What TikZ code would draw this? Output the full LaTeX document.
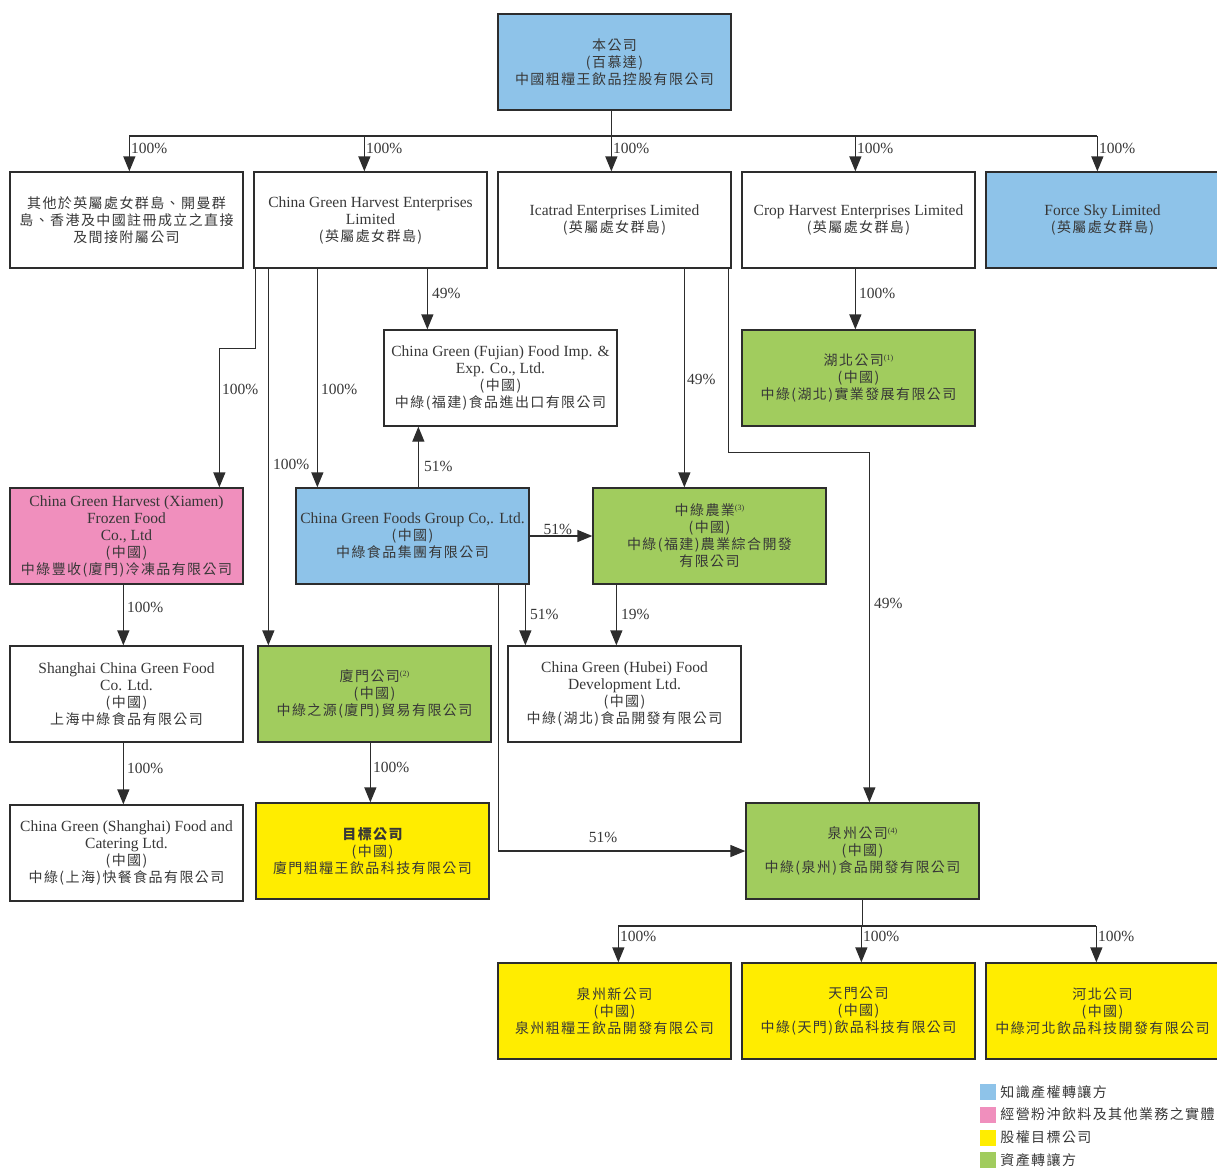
\documentclass[tikz,border=0pt]{standalone}
\usepackage{fontspec}
\setmainfont{Liberation Serif}
\newfontfamily\cjk[LetterSpace=10.0]{Noto Sans CJK TC}
\usetikzlibrary{arrows.meta,calc}
\definecolor{cblue}{RGB}{142,195,233}
\definecolor{cpink}{RGB}{240,143,189}
\definecolor{cgreen}{RGB}{161,204,94}
\definecolor{cyellow}{RGB}{255,237,0}
\definecolor{cline}{RGB}{45,45,45}
\definecolor{ctext}{RGB}{55,55,55}
\newcommand\zh[1]{{\cjk\fontsize{14}{17}\selectfont #1}}
\newcommand\fnote[1]{\raisebox{5pt}{\fontsize{8}{8}\selectfont(#1)}}
\begin{document}
\begin{tikzpicture}[x=1pt,y=-1pt,
  box/.style={draw=cline,line width=1.3pt,minimum width=233pt,minimum height=96pt,
    inner sep=2pt,align=center,text=ctext,font=\fontsize{15.5}{17}\selectfont},
  arr/.style={draw=cline,line width=1.3pt,-{Triangle[width=12pt,length=15pt]}},
  ln/.style={draw=cline,line width=1.3pt},
  lab/.style={text=ctext,font=\fontsize{15.5}{17}\selectfont,inner sep=1pt},
  legsq/.style={minimum width=16pt,minimum height=16pt,inner sep=0pt},
  legtxt/.style={text=ctext,inner sep=0pt,anchor=west}]
\useasboundingbox (0,0) rectangle (1217,1168);
% ---- boxes ----
\node[box,fill=cblue] (top) at (614.5,62) {\zh{本公司}\\\zh{(百慕達)}\\\zh{中國粗糧王飲品控股有限公司}};
\node[box] (A) at (126.5,220) {\zh{其他於英屬處女群島、開曼群}\\\zh{島、香港及中國註冊成立之直接}\\\zh{及間接附屬公司}};
\node[box] (B) at (370.5,220) {China Green Harvest Enterprises\\Limited\\\zh{(英屬處女群島)}};
\node[box] (C) at (614.5,220) {Icatrad Enterprises Limited\\\zh{(英屬處女群島)}};
\node[box] (D) at (858.5,220) {Crop Harvest Enterprises Limited\\\zh{(英屬處女群島)}};
\node[box,fill=cblue] (E) at (1102.5,220) {Force Sky Limited\\\zh{(英屬處女群島)}};
\node[box] (fj) at (500.5,378) {China Green (Fujian) Food Imp. \&\\Exp. Co., Ltd.\\\zh{(中國)}\\\zh{中綠(福建)食品進出口有限公司}};
\node[box,fill=cgreen] (hb) at (858.5,378) {\zh{湖北公司}\fnote{1}\\\zh{(中國)}\\\zh{中綠(湖北)實業發展有限公司}};
\node[box,fill=cpink] (pink) at (126.5,536) {China Green Harvest (Xiamen)\\Frozen Food\\Co., Ltd\\\zh{(中國)}\\\zh{中綠豐收(廈門)冷凍品有限公司}};
\node[box,fill=cblue] (cgf) at (412.5,536) {China Green Foods Group Co,. Ltd.\\\zh{(中國)}\\\zh{中綠食品集團有限公司}};
\node[box,fill=cgreen] (nong) at (709.5,536) {\zh{中綠農業}\fnote{3}\\\zh{(中國)}\\\zh{中綠(福建)農業綜合開發}\\\zh{有限公司}};
\node[box] (sh) at (126.5,694) {Shanghai China Green Food\\Co. Ltd.\\\zh{(中國)}\\\zh{上海中綠食品有限公司}};
\node[box,fill=cgreen] (xm) at (374.5,694) {\zh{廈門公司}\fnote{2}\\\zh{(中國)}\\\zh{中綠之源(廈門)貿易有限公司}};
\node[box] (hbf) at (624.5,694) {China Green (Hubei) Food\\Development Ltd.\\\zh{(中國)}\\\zh{中綠(湖北)食品開發有限公司}};
\node[box] (cat) at (126.5,853) {China Green (Shanghai) Food and\\Catering Ltd.\\\zh{(中國)}\\\zh{中綠(上海)快餐食品有限公司}};
\node[box,fill=cyellow] (tgt) at (372.5,851) {\zh{\bfseries 目標公司}\\\zh{(中國)}\\\zh{廈門粗糧王飲品科技有限公司}};
\node[box,fill=cgreen] (qz) at (862.5,851) {\zh{泉州公司}\fnote{4}\\\zh{(中國)}\\\zh{中綠(泉州)食品開發有限公司}};
\node[box,fill=cyellow] (b1) at (614.5,1011) {\zh{泉州新公司}\\\zh{(中國)}\\\zh{泉州粗糧王飲品開發有限公司}};
\node[box,fill=cyellow] (b2) at (858.5,1011) {\zh{天門公司}\\\zh{(中國)}\\\zh{中綠(天門)飲品科技有限公司}};
\node[box,fill=cyellow] (b3) at (1102.5,1011) {\zh{河北公司}\\\zh{(中國)}\\\zh{中綠河北飲品科技開發有限公司}};
% ---- top bus ----
\coordinate (bus) at (612,136);
\draw[ln] ([xshift=114]top.south west) -- ([xshift=114]top.south west |- bus);
\draw[ln] ([xshift=120]A.north west |- bus) -- ([xshift=112]E.north west |- bus);
\foreach \n/\s in {A/120,B/111,C/114,D/114,E/112}{
  \draw[arr] ([xshift=\s]\n.north west |- bus) -- node[lab,pos=0.35,right]{100\%} ([xshift=\s]\n.north west);
}
% ---- from B ----
\draw[arr] ([xshift=2]B.south west) -- ++(0,80) -| ([xshift=210]pink.north west);
\node[lab,anchor=west] at (221,389) {100\%};
\draw[arr] ([xshift=15]B.south west) -- ([xshift=11]xm.north west);
\node[lab,anchor=west] at (272,464) {100\%};
\draw[arr] ([xshift=64]B.south west) -- ([xshift=22]cgf.north west);
\node[lab,anchor=west] at (320,389) {100\%};
\draw[arr] ([xshift=174]B.south west) -- ([xshift=44]fj.north west);
\node[lab,anchor=west] at (431,293) {49\%};
% ---- from cgf ----
\draw[arr] ([xshift=123]cgf.north west) -- ([xshift=35]fj.south west);
\node[lab,anchor=west] at (423,466) {51\%};
\draw[arr] (cgf.east) -- node[lab,above,pos=0.45]{51\%} (nong.west);
\draw[arr] ([xshift=230]cgf.south west) -- ([xshift=18]hbf.north west);
\node[lab,anchor=west] at (529,614) {51\%};
\draw[arr] ([xshift=24]nong.south west) -- ([xshift=109]hbf.north west);
\node[lab,anchor=west] at (620,614) {19\%};
\draw[arr] ([xshift=203]cgf.south west) |- (qz.west);
\node[lab] at (603,837) {51\%};
% ---- from C ----
\draw[arr] ([xshift=187]C.south west) -- ([xshift=92]nong.north west);
\node[lab,anchor=west] at (686,379) {49\%};
\draw[arr] ([xshift=231]C.south west) -- ++(0,184) -| ([xshift=124]qz.north west);
\node[lab,anchor=west] at (873,603) {49\%};
% ---- from D ----
\draw[arr] ([xshift=114]D.south west) -- ([xshift=114]hb.north west);
\node[lab,anchor=west] at (858,293) {100\%};
% ---- left column ----
\draw[arr] ([xshift=114]pink.south west) -- ([xshift=114]sh.north west);
\node[lab,anchor=west] at (126,607) {100\%};
\draw[arr] ([xshift=114]sh.south west) -- ([xshift=114]cat.north west);
\node[lab,anchor=west] at (126,768) {100\%};
\draw[arr] ([xshift=113]xm.south west) -- ([xshift=115]tgt.north west);
\node[lab,anchor=west] at (372,767) {100\%};
% ---- bottom bus ----
\coordinate (bus2) at (862,926);
\draw[ln] (qz.south) -- (qz.south |- bus2);
\draw[ln] ([xshift=121]b1.north west |- bus2) -- ([xshift=111]b3.north west |- bus2);
\foreach \n/\s in {b1/121,b2/120,b3/111}{
  \draw[arr] ([xshift=\s]\n.north west |- bus2) -- node[lab,pos=0.3,right]{100\%} ([xshift=\s]\n.north west);
}
% ---- legend ----
\node[legsq,fill=cblue] (l1) at (988,1092) {};
\node[legsq,fill=cpink] (l2) at (988,1114.5) {};
\node[legsq,fill=cyellow] (l3) at (988,1137.5) {};
\node[legsq,fill=cgreen] (l4) at (988,1160) {};
\node[legtxt] at ([xshift=4]l1.east) {\zh{知識產權轉讓方}};
\node[legtxt] at ([xshift=4]l2.east) {\zh{經營粉沖飲料及其他業務之實體}};
\node[legtxt] at ([xshift=4]l3.east) {\zh{股權目標公司}};
\node[legtxt] at ([xshift=4]l4.east) {\zh{資產轉讓方}};
\end{tikzpicture}
\end{document}
